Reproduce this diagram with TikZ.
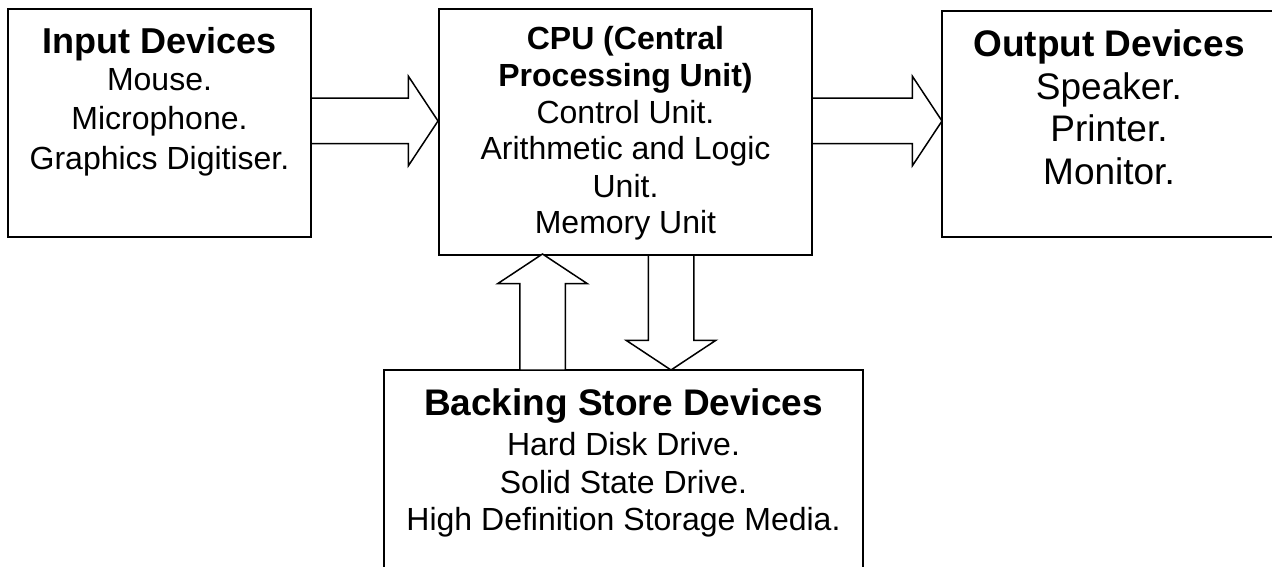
\documentclass[tikz,border=0pt]{standalone}
\usepackage{fontspec}
\setmainfont{Liberation Sans}
\usetikzlibrary{shapes.arrows}

\tikzset{
  unitbox/.style={draw=black, line width=1.8pt, fill=white, rectangle,
    inner sep=0pt, outer sep=0pt, anchor=north west},
  blockarrow/.style={draw=black, line width=1.5pt, fill=white, single arrow,
    minimum width=88pt, single arrow head extend=22pt,
    single arrow tip angle=113, inner xsep=0pt, inner ysep=22pt, outer sep=0pt,
    anchor=tail},
  headline/.style={anchor=base, inner sep=0pt, font=\bfseries\fontsize{#1}{#1}\selectfont},
  itemline/.style={anchor=base, inner sep=0pt, font=\fontsize{#1}{#1}\selectfont},
}

\begin{document}
\begin{tikzpicture}[x=1pt, y=-1pt]
  \useasboundingbox (0,0) rectangle (1272,567);

  % the four units
  \node[unitbox, minimum width=303pt, minimum height=228pt] (in) at (8,9) {};
  \node[unitbox, minimum width=373pt, minimum height=246pt] (cpu) at (439,9) {};
  \node[unitbox, minimum width=336pt, minimum height=226pt] (out) at (942,11) {};
  \node[unitbox, minimum width=479pt, minimum height=220pt] (store) at (384,370) {};

  % data flow between the units
  \node[blockarrow, minimum height=127pt] (inflow) at ([yshift=2pt]in.east) {};
  \node[blockarrow, minimum height=130pt] (outflow) at (cpu.east |- inflow.tail) {};
  \node[blockarrow, minimum height=116pt, rotate=90] (load) at ([xshift=-81pt]store.north) {};
  \node[blockarrow, minimum height=115pt, rotate=-90] (save) at ([xshift=45.5pt]cpu.south) {};

  % input devices
  \node[headline=36] (inT) at (159.5,54) {Input Devices};
  \node[itemline=32] (in1) at (159.5,91) {Mouse.};
  \node[itemline=32] (in2) at (159.5,130) {Microphone.};
  \node[itemline=32] (in3) at (159.5,169) {Graphics Digitiser.};

  % processor
  \node[headline=32] (cpuT1) at (625.5,50) {CPU (Central};
  \node[headline=32] (cpuT2) at (625.5,87) {Processing Unit)};
  \node[itemline=32] (cpu1) at (625.5,124) {Control Unit.};
  \node[itemline=32] (cpu2) at (625.5,160) {Arithmetic and Logic};
  \node[itemline=32] (cpu3) at (625.5,197) {Unit.};
  \node[itemline=32] (cpu4) at (625.5,233) {Memory Unit};

  % output devices
  \node[headline=37] (outT) at (1109,57) {Output Devices};
  \node[itemline=37] (out1) at (1109,100) {Speaker.};
  \node[itemline=37] (out2) at (1109,142) {Printer.};
  \node[itemline=37] (out3) at (1109,185) {Monitor.};

  % backing store
  \node[headline=37] (storeT) at (623.5,415) {Backing Store Devices};
  \node[itemline=32] (store1) at (623.5,455) {Hard Disk Drive.};
  \node[itemline=32] (store2) at (623.5,493) {Solid State Drive.};
  \node[itemline=32] (store3) at (623.5,530) {High Definition Storage Media.};
\end{tikzpicture}
\end{document}
